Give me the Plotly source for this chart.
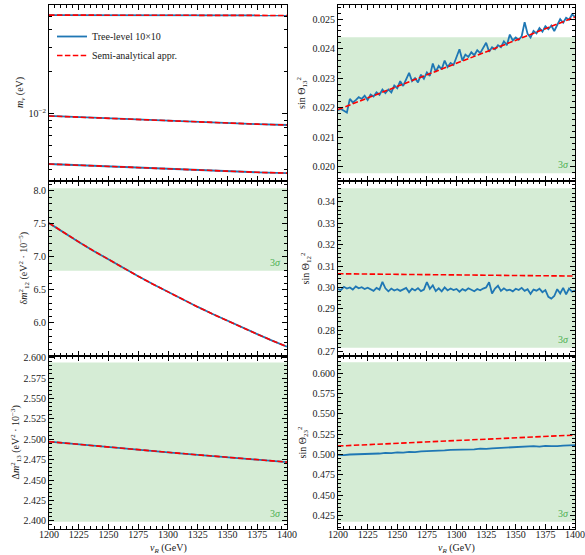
import numpy as np
import plotly.graph_objects as go

# ---------------- data ----------------
vR = [1200, 1225, 1250, 1275, 1300, 1325, 1350, 1375, 1400]
vR_fine = [1200, 1212.5, 1225, 1237.5, 1250, 1262.5, 1275, 1287.5, 1300,
           1312.5, 1325, 1337.5, 1350, 1362.5, 1375, 1387.5, 1400]

# neutrino masses (eV)
m3 = [0.0509, 0.0509, 0.0508, 0.0508, 0.0508, 0.0507, 0.0507, 0.0507, 0.0506]
m2 = [0.00968, 0.00948, 0.00929, 0.00911, 0.00894, 0.00877, 0.00860, 0.00846, 0.00834]
m1 = [0.00439, 0.00430, 0.00421, 0.00413, 0.00405, 0.00398, 0.00390, 0.00383, 0.00378]

# mass splittings
dm12 = [7.510, 7.365, 7.225, 7.089, 6.957, 6.829, 6.705, 6.584, 6.467,
        6.353, 6.242, 6.135, 6.030, 5.929, 5.830, 5.733, 5.640]
dm13 = [2.497, 2.4936, 2.4903, 2.4871, 2.4840, 2.4809, 2.4779, 2.4749, 2.4720]

# semi-analytical mixing angles
s13_semi = [0.02194, 0.02233, 0.02272, 0.02311, 0.02350, 0.02390, 0.02429, 0.02468, 0.02507]
s12_semi = [0.30639, 0.30627, 0.30613, 0.30600, 0.30586, 0.30573, 0.30559, 0.30546, 0.30532]
s23_semi = [0.5106, 0.5123, 0.5140, 0.5157, 0.5174, 0.5190, 0.5207, 0.5224, 0.5241]

# tree-level mixing angles (numerical, noisy)
s13_tree = [
    0.02192, 0.02196, 0.02190, 0.02184, 0.02230, 0.02218, 0.02226, 0.02236,
    0.02230, 0.02241, 0.02226, 0.02245, 0.02238, 0.02252, 0.02244, 0.02262,
    0.02250, 0.02262, 0.02252, 0.02275, 0.02266, 0.02290, 0.02274, 0.02296,
    0.02318, 0.02290, 0.02300, 0.02286, 0.02312, 0.02298, 0.02320, 0.02308,
    0.02350, 0.02322, 0.02342, 0.02330, 0.02360, 0.02338, 0.02352, 0.02345,
    0.02372, 0.02398, 0.02360, 0.02380, 0.02372, 0.02388, 0.02378, 0.02395,
    0.02385, 0.02402, 0.02420, 0.02390, 0.02405, 0.02398, 0.02412, 0.02405,
    0.02425, 0.02412, 0.02448, 0.02428, 0.02438, 0.02430, 0.02442, 0.02490,
    0.02450, 0.02438, 0.02460, 0.02452, 0.02470, 0.02458, 0.02476, 0.02466,
    0.02478, 0.02460, 0.02482, 0.02500, 0.02488, 0.02505, 0.02498, 0.02516,
    0.02508]
s12_tree = [
    0.2992, 0.2988, 0.3003, 0.2995, 0.3000, 0.2990, 0.3005, 0.2996,
    0.3001, 0.2993, 0.2999, 0.2990, 0.2984, 0.2998, 0.2990, 0.3026,
    0.2996, 0.2982, 0.2995, 0.2986, 0.2992, 0.2984, 0.2990, 0.2998,
    0.2978, 0.2994, 0.2986, 0.2997, 0.2983, 0.2990, 0.3025, 0.2994,
    0.3010, 0.2983, 0.2996, 0.2982, 0.3000, 0.2986, 0.2995, 0.2988,
    0.2993, 0.2980, 0.2992, 0.2985, 0.2996, 0.2988, 0.2982, 0.2993,
    0.2987, 0.2995, 0.3000, 0.3024, 0.2972, 0.2995, 0.3008, 0.2984,
    0.2996, 0.2986, 0.2990, 0.2982, 0.2994, 0.2988, 0.2998, 0.2984,
    0.2992, 0.2970, 0.2990, 0.2985, 0.2994, 0.2978, 0.2988, 0.2956,
    0.2948, 0.2960, 0.2992, 0.2972, 0.2998, 0.2968, 0.2995, 0.2980,
    0.2986]
s23_tree = [
    0.4998, 0.4994, 0.5002, 0.5003, 0.5010, 0.5012, 0.5015, 0.5014, 0.5022,
    0.5020, 0.5028, 0.5025, 0.5034, 0.5030, 0.5040, 0.5042, 0.5046, 0.5044,
    0.5052, 0.5060, 0.5062, 0.5058, 0.5066, 0.5064, 0.5074, 0.5071, 0.5078,
    0.5082, 0.5084, 0.5090, 0.5092, 0.5097, 0.5098, 0.5104, 0.5100, 0.5108,
    0.5106, 0.5104, 0.5112, 0.5115, 0.5118]

vR_13 = np.linspace(1200, 1400, len(s13_tree))
vR_12 = np.linspace(1200, 1400, len(s12_tree))
vR_23 = np.linspace(1200, 1400, len(s23_tree))

# 3 sigma bands
band_dm12 = [6.79, 8.036]
band_dm13 = [2.399, 2.594]
band_s13 = [0.01978, 0.02439]
band_s12 = [0.2719, 0.3463]
band_s23 = [0.4176, 0.6135]

xticks = [1200, 1225, 1250, 1275, 1300, 1325, 1350, 1375, 1400]

# ---------------- style ----------------
BLUE = "#1f77b4"
RED = "#ff0000"
GREEN_FILL = "rgba(44,160,44,0.2)"
GREEN_TXT = "#4caf50"
FONT = "Liberation Serif"
TXT = "#1a1a1a"
DASH = "5.5px,2.4px"

W, H = 585, 555
def px_x(a): return a / W
def px_y(a): return 1 - a / H

xL = [px_x(49), px_x(287)]
xR = [px_x(338), px_x(575)]
rows_px = [(5, 181), (181, 356), (356, 529)]
ydom = [[px_y(b), px_y(t)] for (t, b) in rows_px]

fig = go.Figure()

def add_pair(xs_tree, ys_tree, xs_semi, ys_semi, idx, legend=False):
    xa = "x" if idx == 1 else f"x{idx}"
    ya = "y" if idx == 1 else f"y{idx}"
    fig.add_trace(go.Scatter(x=xs_tree, y=ys_tree, mode="lines",
                             line=dict(color=BLUE, width=1.8),
                             name="Tree-level 10×10", showlegend=legend,
                             xaxis=xa, yaxis=ya))
    fig.add_trace(go.Scatter(x=xs_semi, y=ys_semi, mode="lines",
                             line=dict(color=RED, width=1.6, dash=DASH),
                             name="Semi-analytical appr.", showlegend=legend,
                             xaxis=xa, yaxis=ya))

add_pair(vR, m3, vR, m3, 1, legend=True)
add_pair(vR, m2, vR, m2, 1)
add_pair(vR, m1, vR, m1, 1)
add_pair(vR_13, s13_tree, vR, s13_semi, 2)
add_pair(vR_fine, dm12, vR_fine, dm12, 3)
add_pair(vR_12, s12_tree, vR, s12_semi, 4)
add_pair(vR, dm13, vR, dm13, 5)
add_pair(vR_23, s23_tree, vR, s23_semi, 6)

axis_common = dict(showline=True, linecolor="black", linewidth=1.1, mirror="allticks",
                   ticks="inside", ticklen=4.5, tickwidth=0.9, tickcolor="black",
                   showgrid=False, zeroline=False,
                   tickfont=dict(family=FONT, size=10, color=TXT),
                   automargin=False)
minor_common = dict(ticks="inside", ticklen=2.5, tickwidth=0.7, tickcolor="black", showgrid=False)

layout = dict(width=W, height=H, margin=dict(l=0, r=0, t=0, b=0),
              paper_bgcolor="white", plot_bgcolor="white",
              font=dict(family=FONT, size=10, color=TXT),
              legend=dict(x=px_x(52), y=px_y(22), xanchor="left", yanchor="top",
                          bgcolor="rgba(0,0,0,0)", borderwidth=0,
                          font=dict(family=FONT, size=10, color=TXT),
                          tracegroupgap=0, itemwidth=30))

for i in range(1, 7):
    row = (i - 1) // 2
    left = (i % 2 == 1)
    xk = "xaxis" if i == 1 else f"xaxis{i}"
    yk = "yaxis" if i == 1 else f"yaxis{i}"
    ya = "y" if i == 1 else f"y{i}"
    xa = "x" if i == 1 else f"x{i}"
    layout[xk] = dict(axis_common, domain=xL if left else xR, anchor=ya,
                      range=[1200, 1400], tickvals=xticks,
                      showticklabels=(row == 2), ticklabelstandoff=-4,
                      minor=dict(minor_common, dtick=5, tick0=1200))
    layout[yk] = dict(axis_common, domain=ydom[row], anchor=xa)

layout["yaxis"].update(type="log", range=[np.log10(0.00332), np.log10(0.0601)],
                       tickvals=[0.01], ticktext=["10<sup>−2</sup>"],
                       minor=dict(minor_common, tickmode="array",
                                  tickvals=[0.004, 0.005, 0.006, 0.007, 0.008, 0.009,
                                            0.02, 0.03, 0.04, 0.05, 0.06]))
layout["yaxis2"].update(range=[0.01952, 0.02548], tickvals=[0.020, 0.021, 0.022, 0.023, 0.024, 0.025],
                        tickformat=".3f", minor=dict(minor_common, dtick=0.0002, tick0=0.02))
layout["yaxis3"].update(range=[5.50, 8.146], tickvals=[6.0, 6.5, 7.0, 7.5, 8.0],
                        tickformat=".1f", minor=dict(minor_common, dtick=0.1, tick0=5.5))
layout["yaxis4"].update(range=[0.268, 0.3497], tickvals=[0.27, 0.28, 0.29, 0.30, 0.31, 0.32, 0.33, 0.34],
                        tickformat=".2f", minor=dict(minor_common, dtick=0.002, tick0=0.27))
layout["yaxis5"].update(range=[2.390, 2.602], tickvals=[2.400, 2.425, 2.450, 2.475, 2.500, 2.525, 2.550, 2.575, 2.600],
                        tickformat=".3f", minor=dict(minor_common, dtick=0.005, tick0=2.4))
layout["yaxis6"].update(range=[0.4086, 0.6213], tickvals=[0.425, 0.450, 0.475, 0.500, 0.525, 0.550, 0.575, 0.600],
                        tickformat=".3f", minor=dict(minor_common, dtick=0.005, tick0=0.4))

fig.update_layout(**layout)

bands = {2: band_s13, 3: band_dm12, 4: band_s12, 5: band_dm13, 6: band_s23}
shapes = []
annotations = []
for i, (b0, b1) in bands.items():
    xa = f"x{i}"
    ya = f"y{i}"
    shapes.append(dict(type="rect", xref=f"{xa} domain", yref=ya, x0=0, x1=1, y0=b0, y1=b1,
                       fillcolor=GREEN_FILL, line=dict(width=0), layer="below"))
    annotations.append(dict(xref=f"{xa} domain", yref=ya, x=0.985, y=b0, xanchor="right",
                            yanchor="bottom", yshift=1, showarrow=False, text="3<i>σ</i>",
                            font=dict(family=FONT, size=10, color=GREEN_TXT)))

ytitles = [
    ("<i>m</i><sub><i>ν</i></sub> (eV)", 20, 0),
    ("sin Θ<sub>13</sub><sup>2</sup>", 302, 0),
    ("δ<i>m</i><sup>2</sup><sub>12</sub> (eV<sup>2</sup> · 10<sup>−5</sup>)", 24, 1),
    ("sin Θ<sub>12</sub><sup>2</sup>", 306, 1),
    ("Δ<i>m</i><sup>2</sup><sub>13</sub> (eV<sup>2</sup> · 10<sup>−3</sup>)", 15, 2),
    ("sin Θ<sub>23</sub><sup>2</sup>", 302, 2),
]
for text, xpx, row in ytitles:
    t, b = rows_px[row]
    annotations.append(dict(xref="paper", yref="paper", x=px_x(xpx), y=px_y((t + b) / 2),
                            xanchor="center", yanchor="middle", textangle=-90, showarrow=False,
                            text=text, font=dict(family=FONT, size=10, color=TXT)))
for xc in [(49 + 287) / 2, (338 + 575) / 2]:
    annotations.append(dict(xref="paper", yref="paper", x=px_x(xc), y=px_y(548),
                            xanchor="center", yanchor="middle", showarrow=False,
                            text="<i>v</i><sub><i>R</i></sub> (GeV)",
                            font=dict(family=FONT, size=10, color=TXT)))

fig.update_layout(shapes=shapes, annotations=annotations)
fig.write_html("out.html")
